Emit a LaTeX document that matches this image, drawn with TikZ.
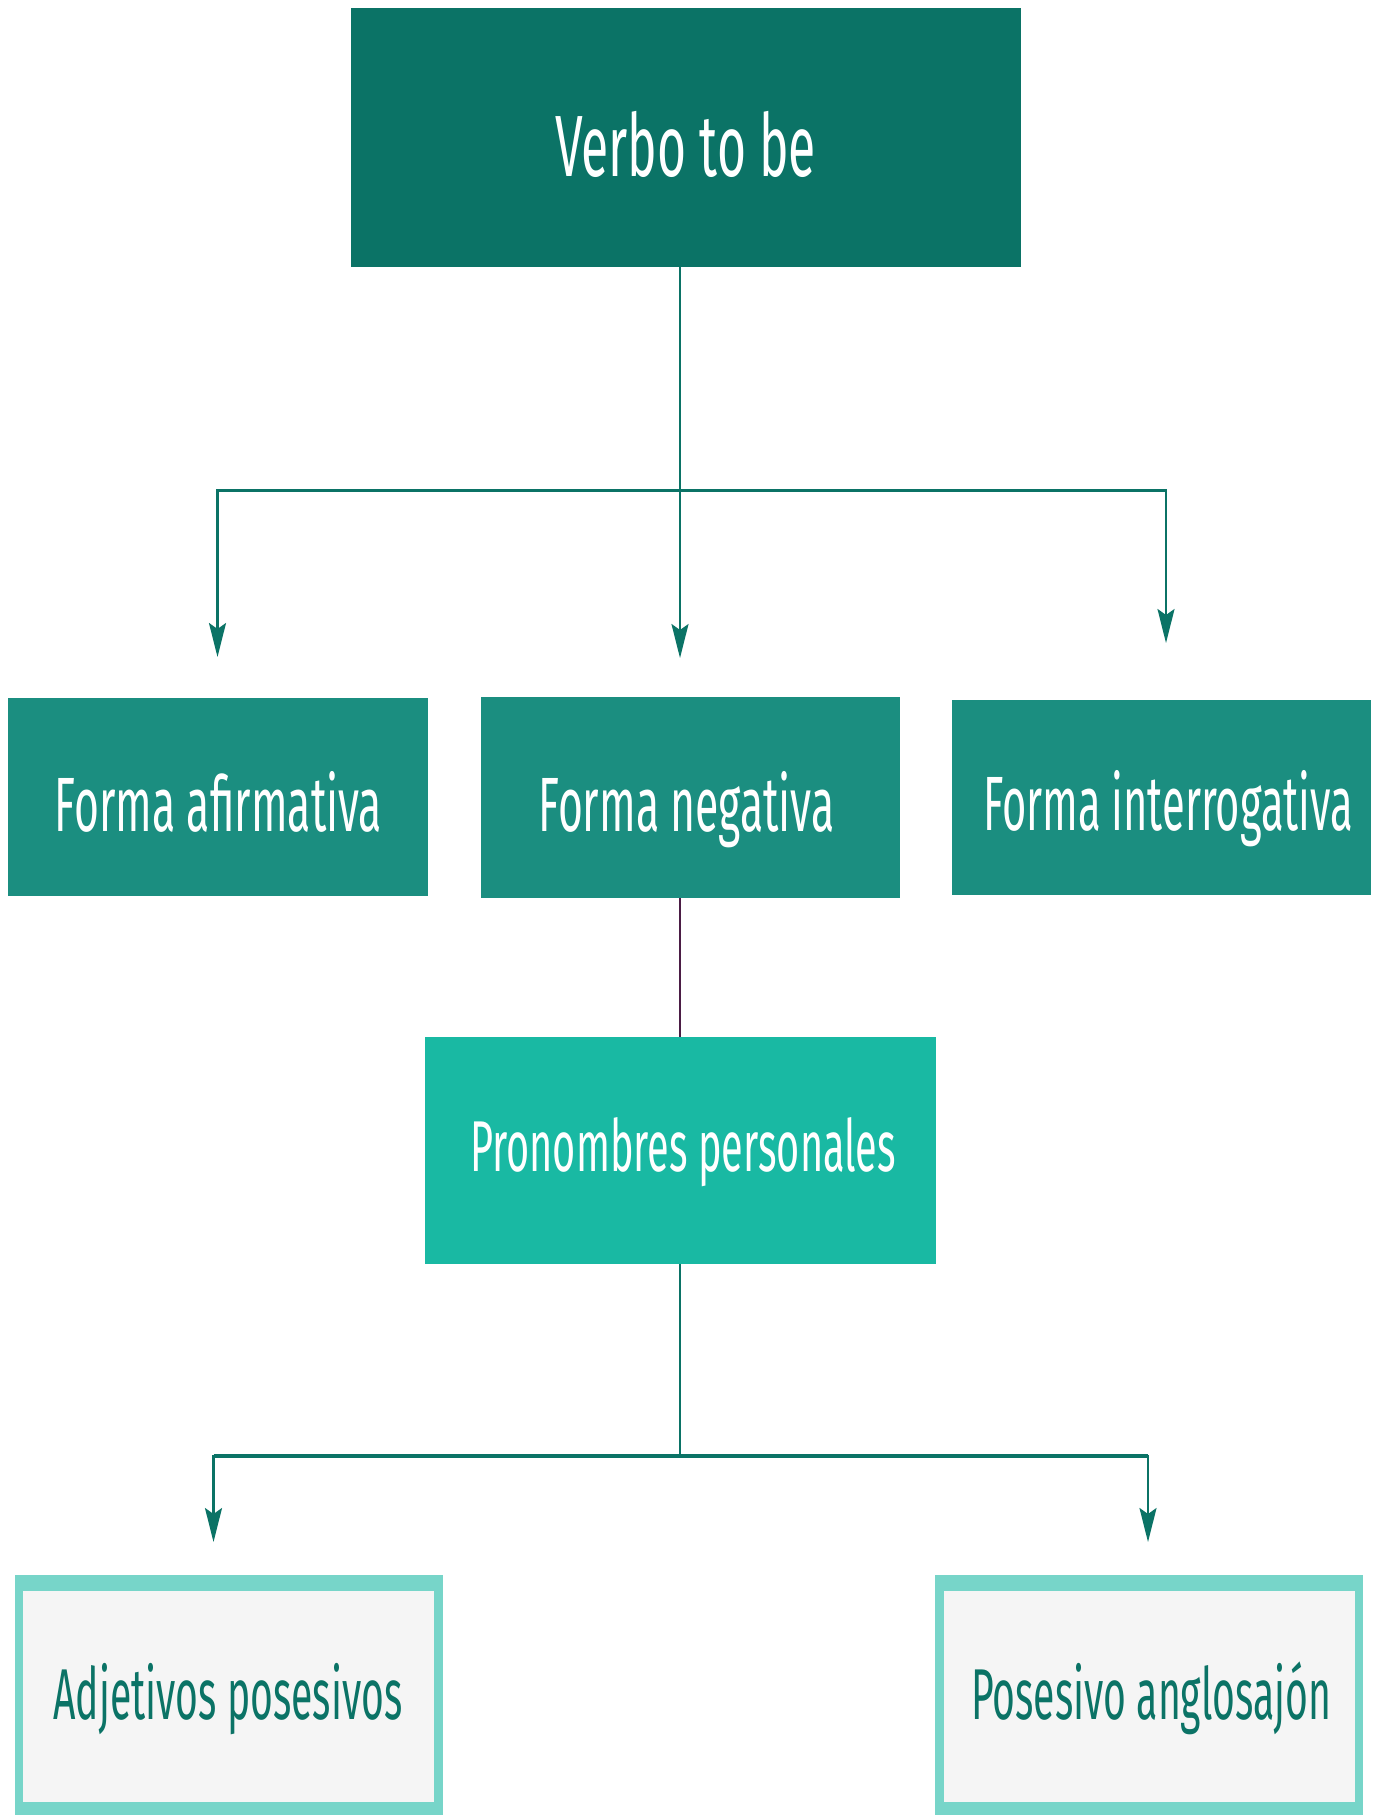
\documentclass[tikz,border=0pt]{standalone}
\usepackage{fontspec}
\usepackage{graphicx}
\setmainfont{Fira Sans}
\usetikzlibrary{arrows.meta}
\definecolor{cdark}{HTML}{0B7366}
\definecolor{cmid}{HTML}{1B8E80}
\definecolor{clight}{HTML}{19B9A3}
\definecolor{cborder}{HTML}{77D5C9}
\definecolor{cinner}{HTML}{F5F5F5}
\definecolor{cpurple}{HTML}{4B1D45}
\newcommand\fitw[2]{\resizebox{#1pt}{\height}{#2}}
\tikzset{
  boxnode/.style={rectangle, inner sep=0pt, outer sep=0pt, draw=none},
  txt/.style={inner sep=0pt, outer sep=0pt, anchor=base},
  conn/.style={draw=cdark, line width=2.3pt},
  barline/.style={draw=cdark, line width=3.6pt},
  arr/.style={conn, -{Stealth[length=34pt, width=17pt, inset=6pt]}},
}
\begin{document}
\begin{tikzpicture}[x=1pt, y=-1pt]
\useasboundingbox (0,0) rectangle (1375,1815);
\fill[white] (0,0) rectangle (1375,1815);

% boxes
\node[boxnode, fill=cdark, minimum width=670pt, minimum height=258.5pt] (verbo) at (686,137.25) {};
\node[boxnode, fill=cmid, minimum width=420pt, minimum height=198pt] (afirm) at (218,797) {};
\node[boxnode, fill=cmid, minimum width=419pt, minimum height=201.5pt] (neg) at (690.5,797.25) {};
\node[boxnode, fill=cmid, minimum width=419pt, minimum height=195pt] (inter) at (1161,797) {};
\node[boxnode, fill=clight, minimum width=511pt, minimum height=227pt] (pron) at (680,1150.5) {};

\node[boxnode, fill=cborder, minimum width=428pt, minimum height=242pt] (adjO) at (228.5,1696) {};
\node[boxnode, fill=cinner, minimum width=411pt, minimum height=211pt] (adj) at (228.5,1696.5) {};
\node[boxnode, fill=cborder, minimum width=428pt, minimum height=242pt] (posO) at (1149,1696) {};
\node[boxnode, fill=cinner, minimum width=411pt, minimum height=211pt] (pos) at (1149,1696.5) {};

% texts
\node[txt, text=white, font=\fontsize{87}{87}\selectfont] (verboT) at (685.5,176) {\fitw{261}{Verbo to be}};
\node[txt, text=white, font=\fontsize{77}{77}\selectfont] (afirmT) at (218.5,831) {\fitw{327}{Forma afirmativa}};
\node[txt, text=white, font=\fontsize{77}{77}\selectfont] (negT) at (686.5,831) {\fitw{296}{Forma negativa}};
\node[txt, text=white, font=\fontsize{77}{77}\selectfont] (interT) at (1168,830.5) {\fitw{370}{Forma interrogativa}};
\node[txt, text=white, font=\fontsize{72}{72}\selectfont] (pronT) at (683,1171.5) {\fitw{426}{Pronombres personales}};
\node[txt, text=cdark, font=\fontsize{72}{72}\selectfont] (adjT) at (228,1719) {\fitw{349}{Adjetivos posesivos}};
\node[txt, text=cdark, font=\fontsize{72}{72}\selectfont] (posT) at (1151,1719) {\fitw{360}{Posesivo anglosajón}};

% junctions and arrow tips
\coordinate (j1) at (680,490.5);
\coordinate (t1) at (217.5,657);
\coordinate (t2) at (680,658);
\coordinate (t3) at (1166,643);
\coordinate (j2) at (680,1456);
\coordinate (t4) at (213.5,1542);
\coordinate (t5) at (1148,1542);

% connectors, top level
\draw[conn] (verbo.south -| j1) -- (j1);
\draw[arr] (j1) -| (t1);
\draw[arr] (j1) -- (t2);
\draw[arr] (j1) -| (t3);
\draw[barline] (t1 |- j1) -- (t3 |- j1);

% negativa to pronombres
\draw[draw=cpurple, line width=2.3pt] (neg.south -| pron.north) -- (pron.north);

% connectors, bottom level
\draw[conn] (pron.south) -- (j2);
\draw[arr] (j2) -| (t4);
\draw[arr] (j2) -| (t5);
\draw[barline] (t4 |- j2) -- (t5 |- j2);
\end{tikzpicture}
\end{document}
